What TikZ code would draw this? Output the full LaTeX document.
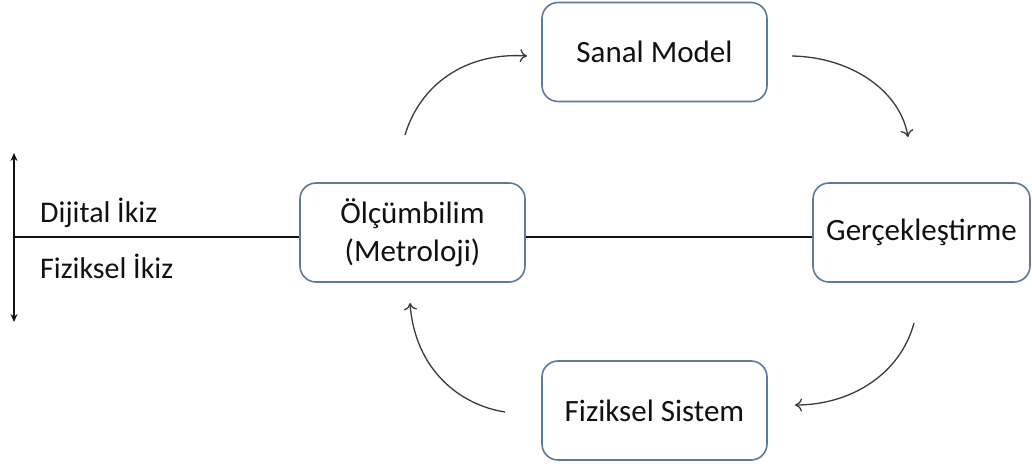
\documentclass[tikz,border=0pt]{standalone}
\usepackage{fontspec}
\setmainfont{Carlito}
\usetikzlibrary{arrows.meta}
\definecolor{boxline}{HTML}{5B7A9C}
\definecolor{ink}{HTML}{111111}
\definecolor{curve}{HTML}{3A3A3A}
\tikzset{
  stage/.style={draw=boxline, line width=1.6pt, rounded corners=16pt, fill=white,
    minimum width=225pt, minimum height=99pt, inner sep=0pt, align=center,
    font=\fontsize{31}{38}\selectfont, text=ink},
  label/.style={anchor=west, inner sep=0pt, font=\fontsize{30}{36}\selectfont, text=ink},
  flow/.style={draw=curve, line width=1.3pt, -{To[length=7pt,width=13pt]}},
  axis/.style={draw=ink, line width=1.6pt}
}
\begin{document}
\begin{tikzpicture}[x=1pt,y=-1pt]
  \useasboundingbox (0,0) rectangle (1032,468);

  % process stages
  \node[stage] (sanal) at (654.5,52) {Sanal Model};
  \node[stage, minimum width=217pt] (gerc) at (921.5,232.5) {Gerçekleştirme};
  \node[stage] (fiz) at (654.5,410.5) {Fiziksel Sistem};
  \node[stage] (olc) at (412.5,232.5) {Ölçümbilim\\(Metroloji)};

  % twin axis
  \coordinate (axL) at (14,237);
  \coordinate (axTop) at (14,153);
  \coordinate (axBot) at (14,322);
  \draw[axis, {Stealth[length=8pt,width=7pt]}-{Stealth[length=8pt,width=7pt]}] (axTop) -- (axBot);
  \draw[axis] (axL) -- (axL -| olc.west);
  \draw[axis] (olc.east |- axL) -- (axL -| gerc.west);

  \node[label] (dij) at (40,213) {Dijital İkiz};
  \node[label] (fik) at (40,266) {Fiziksel İkiz};

  % cycle arrows
  \coordinate (a1s) at (405,135);
  \coordinate (a1e) at (527,56);
  \coordinate (a2s) at (792,56);
  \coordinate (a2e) at (908,137);
  \coordinate (a3s) at (914,323);
  \coordinate (a3e) at (795,405);
  \coordinate (a4s) at (505,412);
  \coordinate (a4e) at (410,303);
  \draw[flow] (a1s) .. controls (420,85) and (465,52) .. (a1e);
  \draw[flow] (a2s) .. controls (850,57) and (900,90) .. (a2e);
  \draw[flow] (a3s) .. controls (900,375) and (850,405) .. (a3e);
  \draw[flow] (a4s) .. controls (460,405) and (415,370) .. (a4e);
\end{tikzpicture}
\end{document}
